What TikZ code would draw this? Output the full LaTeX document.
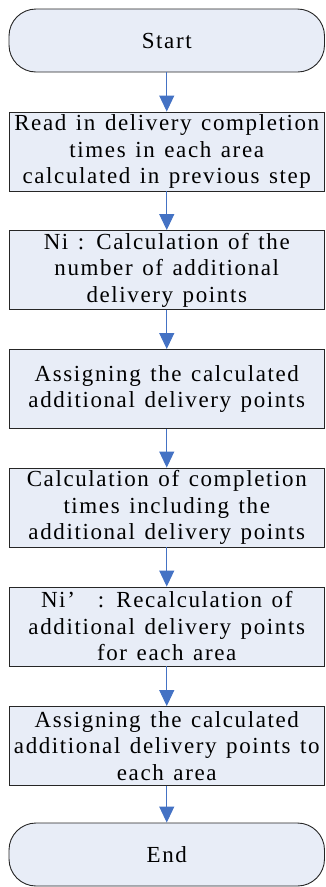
\documentclass[tikz,border=0pt]{standalone}
\usepackage{fontspec}
\setmainfont{Liberation Serif}[LetterSpace=7, WordSpace=1.3]
\usetikzlibrary{arrows.meta}
\definecolor{boxfill}{HTML}{E8EDF7}
\definecolor{arrowblue}{HTML}{4472C4}
\tikzset{
  box/.style={draw=black!85, line width=0.9pt, fill=boxfill, minimum width=315.5pt, minimum height=79pt,
    align=center, inner sep=0pt, font=\fontsize{23}{26.5}\selectfont},
  term/.style={box, rounded corners=27pt, minimum height=63pt},
  flow/.style={draw=arrowblue, line width=1pt, -{Triangle[width=15pt,length=16pt]}}
}
\begin{document}
\begin{tikzpicture}[x=1pt,y=-1pt]
\useasboundingbox (0,0) rectangle (325,887);
\node[term] (start) at (166.75,40.5) {Start};
\node[box] (b1) at (166.75,151.5) {Read in delivery completion\\times in each area\\calculated in previous step};
\node[box] (b2) at (166.75,270) {Ni : Calculation of the\\number of additional\\delivery points};
\node[box] (b3) at (166.75,389) {Assigning the calculated\\additional delivery points};
\node[box] (b4) at (166.75,507.5) {Calculation of completion\\times including the\\additional delivery points};
\node[box] (b5) at (166.75,626.5) {Ni’\quad: Recalculation of\\additional delivery points\\for each area};
\node[box] (b6) at (166.75,746) {Assigning the calculated\\additional delivery points to\\each area};
\node[term] (end) at (166.75,854.5) {End};
\draw[flow] (start) -- (b1);
\draw[flow] (b1) -- (b2);
\draw[flow] (b2) -- (b3);
\draw[flow] (b3) -- (b4);
\draw[flow] (b4) -- (b5);
\draw[flow] (b5) -- (b6);
\draw[flow] (b6) -- (end);
\end{tikzpicture}
\end{document}
